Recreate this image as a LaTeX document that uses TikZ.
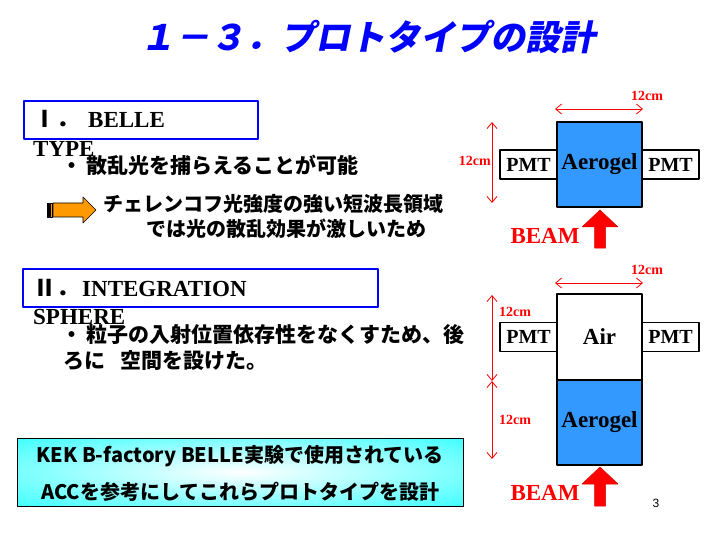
\documentclass[tikz,border=0pt]{standalone}
\usepackage{fontspec}
\setmainfont{Liberation Serif}
\setsansfont{Liberation Sans}
\newfontfamily\jp{Noto Sans CJK JP}
\newfontfamily\jpsl{Noto Sans CJK JP}[FakeSlant=0.2]
\usetikzlibrary{positioning,arrows.meta}
\definecolor{aerogel}{RGB}{51,153,255}
\definecolor{orangearrow}{RGB}{255,153,0}
\begin{document}
\begin{tikzpicture}[x=1bp,y=-1bp,>={Straight Barb[length=6bp,width=10bp]},line join=round,
	jptext/.style={inner sep=0pt,anchor=west,font=\jp\bfseries\fontsize{21bp}{25bp}\selectfont},
	head/.style={inner sep=0pt,anchor=base west,font=\bfseries\fontsize{23bp}{27bp}\selectfont},
	headbox/.style={draw=blue,line width=2bp,inner sep=0pt},
	block/.style={draw,line width=1.5bp,inner sep=0pt,outer sep=0pt,minimum width=85bp,minimum height=85bp,font=\bfseries\fontsize{23bp}{27bp}\selectfont},
	pmt/.style={draw,line width=1.5bp,fill=white,inner sep=0pt,outer sep=0pt,minimum width=57bp,minimum height=29bp,font=\bfseries\fontsize{20bp}{24bp}\selectfont},
	dim/.style={red,line width=.8bp,<->},
	dimlbl/.style={red,inner sep=0pt,font=\bfseries\fontsize{14bp}{16bp}\selectfont},
	beam/.style={fill=red,draw=red!85!black,line width=.5bp},
	beamlbl/.style={red,inner sep=0pt,font=\bfseries\fontsize{23bp}{27bp}\selectfont}]
	\useasboundingbox[fill=white] (0,0) rectangle (720,540);
	\node[blue,font=\jpsl\bfseries\fontsize{35bp}{40bp}\selectfont] (title) at (368,37) {１－３．プロトタイプの設計};
	
	\node[headbox,minimum width=234bp,minimum height=38bp] (boxI) at (141,120) {};
	\node[head] (headI) at (33,128) {{\jp Ⅰ．}\hspace{9bp}BELLE};
	\node[head] (typeI) at (33,157) {TYPE};
	\node[jptext] (textI) at (61,165) {・\hspace{4bp}散乱光を捕らえることが可能};
	\draw[fill=black] (47,203) rectangle (49,217);
	\draw[fill=orangearrow,line width=.6bp] (50,203) rectangle (52,217);
	\draw[fill=orangearrow,line width=.6bp] (53,203) -- (83,203) -- (83,197) -- (96,210) -- (83,223) -- (83,217) -- (53,217) -- cycle;
	\node[jptext,font=\jp\bfseries\fontsize{20bp}{24bp}\selectfont] (reasonA) at (103,204) {チェレンコフ光強度の強い短波長領域};
	\node[jptext,font=\jp\bfseries\fontsize{20bp}{24bp}\selectfont] (reasonB) at (146,229) {では光の散乱効果が激しいため};
	
	\node[headbox,minimum width=355bp,minimum height=37bp] (boxII) at (200.5,288) {};
	\node[head] (headII) at (33,296) {{\jp Ⅱ．}\hspace{3bp}INTEGRATION};
	\node[head] (typeII) at (33,324) {SPHERE};
	\node[jptext] (textIIa) at (61,335) {・\hspace{4bp}粒子の入射位置依存性をなくすため、後};
	\node[jptext] (textIIb) at (63,361) {ろに\hspace{15bp}空間を設けた。};
	
	\node[draw,line width=1bp,minimum width=445bp,minimum height=68bp,
		path picture={\shade[inner color=white,outer color=cyan] (path picture bounding box.center) ellipse (420bp and 64bp);}] (note) at (240.5,472) {};
	\node[font=\jp\bfseries\fontsize{20bp}{24bp}\selectfont,inner sep=0pt] (noteA) at (240,456) {KEK B-factory BELLE実験で使用されている};
	\node[font=\jp\bfseries\fontsize{20bp}{24bp}\selectfont,inner sep=0pt] (noteB) at (240.5,492) {ACCを参考にしてこれらプロトタイプを設計};
	
	% BELLE type
	\node[block,fill=aerogel] (aero1) at (599.5,164.5) {Aerogel};
	\node[pmt,left=0pt of aero1] (pmt1l) {PMT};
	\node[pmt,right=0pt of aero1] (pmt1r) {PMT};
	\coordinate (h1a) at (555,109);
	\coordinate (h1b) at (643,109);
	\coordinate (v1a) at (492,122);
	\coordinate (v1b) at (492,203);
	\draw[dim] (h1a) -- (h1b);
	\draw[dim] (v1a) -- (v1b);
	\node[dimlbl] (lblh1) at (647,96) {12cm};
	\node[dimlbl,left=1bp of v1a,yshift=-39bp] (lblv1) {12cm};
	\node[beamlbl] (beam1) at (545,236) {BEAM};
	\draw[beam] (aero1.south) ++(0.5,3) -- ++(18,17) -- ++(-12.5,0) -- ++(0,21) -- ++(-11,0) -- ++(0,-21) -- ++(-12.5,0) -- cycle;
	
	% integration sphere
	\node[block,fill=white,minimum height=86bp] (air) at (599.5,337) {Air};
	\node[block,fill=aerogel,below=0pt of air] (aero2) {Aerogel};
	\node[pmt,left=0pt of air] (pmt2l) {PMT};
	\node[pmt,right=0pt of air] (pmt2r) {PMT};
	\coordinate (h2a) at (555,283);
	\coordinate (h2b) at (643,283);
	\coordinate (v2a) at (492,295);
	\coordinate (v2m) at (492,381);
	\coordinate (v2b) at (492,459);
	\draw[dim] (h2a) -- (h2b);
	\draw[dim] (v2a) -- (v2m);
	\draw[dim] (v2m) -- (v2b);
	\node[dimlbl] (lblh2) at (647,270) {12cm};
	\node[dimlbl] (lblv2a) at (515,312) {12cm};
	\node[dimlbl] (lblv2b) at (515,420) {12cm};
	\node[beamlbl] (beam2) at (545,493) {BEAM};
	\draw[beam] (aero2.south) ++(0.5,2) -- ++(18,17) -- ++(-12.5,0) -- ++(0,22) -- ++(-11,0) -- ++(0,-22) -- ++(-12.5,0) -- cycle;
	
	\node[font=\sffamily\fontsize{12bp}{14bp}\selectfont] (page) at (656,503) {3};
\end{tikzpicture}
\end{document}
